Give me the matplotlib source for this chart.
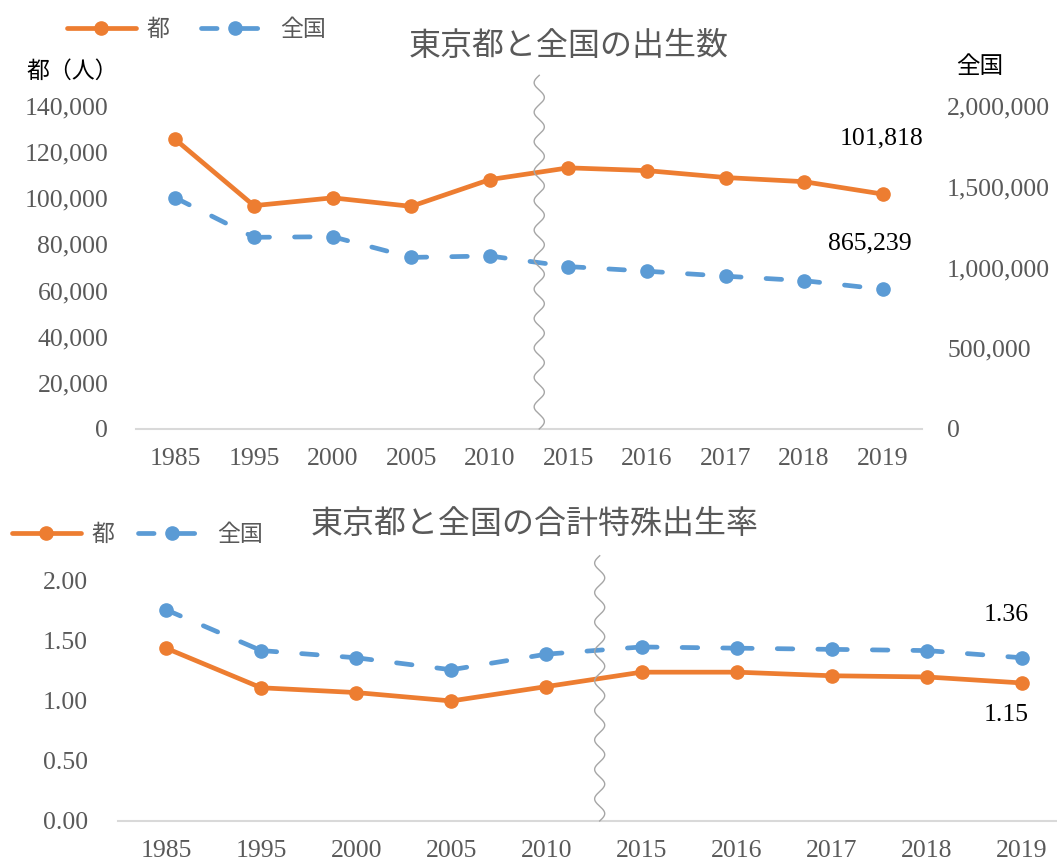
import numpy as np
import matplotlib
matplotlib.use("Agg")
import matplotlib.pyplot as plt
from matplotlib.lines import Line2D
from matplotlib.ticker import FuncFormatter

plt.rcParams['font.family'] = ['Liberation Serif', 'Noto Sans CJK JP']

years = ["1985", "1995", "2000", "2005", "2010", "2015", "2016", "2017", "2018", "2019"]
tokyo_births = [125500, 96800, 100200, 96500, 108100, 113200, 112000, 109000, 107200, 101818]
japan_births = [1431577, 1187064, 1190547, 1062530, 1071304, 1005677, 976978, 946146, 918400, 865239]
tokyo_tfr = [1.44, 1.11, 1.07, 1.00, 1.12, 1.24, 1.24, 1.21, 1.20, 1.15]
japan_tfr = [1.76, 1.42, 1.36, 1.26, 1.39, 1.45, 1.44, 1.43, 1.42, 1.36]

ORANGE = "#ED7D31"
BLUE = "#5B9BD5"
GRAY = "#595959"
AXIS = "#D9D9D9"
WAVE = "#A6A6A6"

x = np.arange(len(years))

fig = plt.figure(figsize=(10.57, 8.64), dpi=100)

DASH = (0, (3.3, 5.3))
orange_kw = dict(color=ORANGE, lw=3.4, marker="o", ms=9.5, solid_capstyle="round")
blue_kw = dict(color=BLUE, lw=3.4, marker="o", ms=9.5, linestyle=DASH,
               dash_capstyle="round")


def dashed_series(ax, xs, ys):
    # excel restarts the dash pattern on every segment
    for i in range(len(xs) - 1):
        ax.plot(xs[i:i + 2], ys[i:i + 2], color=BLUE, lw=3.4, linestyle=DASH,
                dash_capstyle="round", zorder=4)
    ax.plot(xs, ys, color=BLUE, lw=0, marker="o", ms=9.5, zorder=4)


def style_axis(ax):
    for s in ["top", "right", "left"]:
        ax.spines[s].set_visible(False)
    ax.spines["bottom"].set_color(AXIS)
    ax.spines["bottom"].set_linewidth(1.5)
    ax.tick_params(length=0, colors=GRAY, labelsize=18.5)
    ax.set_xticks(x)
    ax.set_xticklabels(years)
    ax.set_xlim(-0.5, len(years) - 0.5)


def wave(ax, xpos, ytop, amp, ncyc):
    t = np.linspace(0, 1, 600)
    xs = xpos + amp * np.sin(2 * np.pi * ncyc * t)
    ys = t * ytop
    ax.plot(xs, ys, color=WAVE, lw=1.0, transform=ax.get_xaxis_transform(),
            clip_on=False, zorder=5)


# ---- top chart: births ----
ax1 = fig.add_axes([0.1287, 0.5035, 0.7436, 0.3738])
ax2 = ax1.twinx()
style_axis(ax1)
for s in ["top", "right", "left", "bottom"]:
    ax2.spines[s].set_visible(False)
ax2.tick_params(length=0, colors=GRAY, labelsize=18.5, pad=18)
ax1.tick_params(axis="y", pad=20)
ax1.tick_params(axis="x", pad=14)

ax1.set_ylim(0, 140000)
ax1.set_yticks(np.arange(0, 140001, 20000))
ax2.set_ylim(0, 2000000)
ax2.set_yticks(np.arange(0, 2000001, 500000))
fmt = FuncFormatter(lambda v, p: f"{int(v):,}")
ax1.yaxis.set_major_formatter(fmt)
ax2.yaxis.set_major_formatter(fmt)

ax1.plot(x, tokyo_births, zorder=4, **orange_kw)
dashed_series(ax2, x, japan_births)
ax1.set_zorder(ax2.get_zorder() + 1)
ax1.patch.set_visible(False)

ax1.annotate(f"{tokyo_births[-1]:,}", (x[-1], tokyo_births[-1]), xytext=(-1, 40),
             textcoords="offset points", ha="center", va="center", fontsize=18.5)
ax2.annotate(f"{japan_births[-1]:,}", (x[-1], japan_births[-1]), xytext=(-9, 33),
             textcoords="offset points", ha="center", va="center", fontsize=18.5)

wave(ax1, 4.63, 1.095, 0.065, 12)

fig.text(569 / 1057, 1 - 47 / 864, "東京都と全国の出生数", ha="center", va="center",
         fontsize=23, color=GRAY)
fig.text(72 / 1057, 1 - 72 / 864, "都（人）", ha="center", va="center", fontsize=16.5)
fig.text(980 / 1057, 1 - 67 / 864, "全国", ha="center", va="center", fontsize=17)

h1 = Line2D([], [], **orange_kw)
h2 = Line2D([], [], **blue_kw)
fig.legend([h1, h2], ["都", "全国"], loc="center left", bbox_to_anchor=(0.0634, 1 - 30 / 864),
           ncol=2, frameon=False, fontsize=16.5, handlelength=3.0, numpoints=1,
           borderpad=0, borderaxespad=0, columnspacing=1.4, handletextpad=0.45,
           labelcolor=GRAY)

# ---- bottom chart: total fertility rate ----
ax3 = fig.add_axes([0.1121, 0.0498, 0.8997, 0.2778])
style_axis(ax3)
ax3.tick_params(axis="y", pad=22)
ax3.tick_params(axis="x", pad=14)
ax3.set_ylim(0, 2.0)
ax3.set_yticks(np.arange(0, 2.01, 0.5))
ax3.yaxis.set_major_formatter(FuncFormatter(lambda v, p: f"{v:.2f}"))

dashed_series(ax3, x, japan_tfr)
ax3.plot(x, tokyo_tfr, zorder=4, **orange_kw)

ax3.annotate(f"{japan_tfr[-1]:.2f}", (x[-1], japan_tfr[-1]), xytext=(-11, 31),
             textcoords="offset points", ha="center", va="center", fontsize=18.5)
ax3.annotate(f"{tokyo_tfr[-1]:.2f}", (x[-1], tokyo_tfr[-1]), xytext=(-11, -23),
             textcoords="offset points", ha="center", va="center", fontsize=18.5)

wave(ax3, 4.56, 1.105, 0.053, 9)

fig.text(535 / 1057, 1 - 525 / 864, "東京都と全国の合計特殊出生率", ha="center", va="center",
         fontsize=23, color=GRAY)
fig.legend([h1, h2], ["都", "全国"], loc="center left", bbox_to_anchor=(0.0114, 1 - 535 / 864),
           ncol=2, frameon=False, fontsize=16.5, handlelength=3.0, numpoints=1,
           borderpad=0, borderaxespad=0, columnspacing=1.05, handletextpad=0.45,
           labelcolor=GRAY)

fig.savefig("out.png", dpi=100)
